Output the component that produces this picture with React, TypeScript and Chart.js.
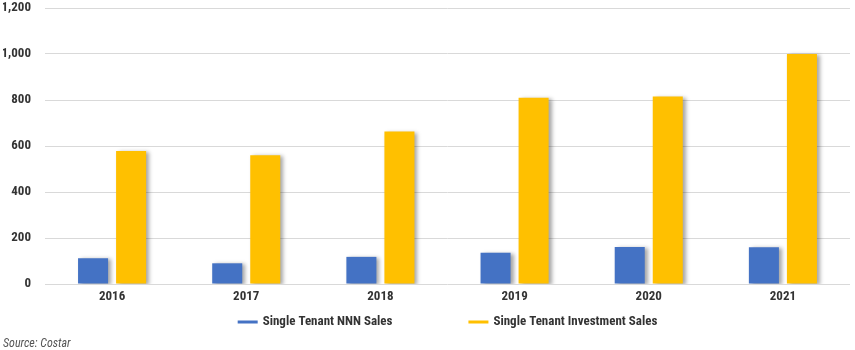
import React, { useEffect, useRef } from "react";
import { Chart, registerables } from "chart.js";

Chart.register(...registerables);

const categories = ["2016", "2017", "2018", "2019", "2020", "2021"];
const nnnSales = [112, 90, 118, 136, 161, 160];
const investmentSales = [578, 560, 663, 810, 815, 1000];
const seriesNames = ["Single Tenant NNN Sales", "Single Tenant Investment Sales"];
const seriesColors = ["#4472C4", "#FFC000"];
const sourceNote = "Source: Costar";

const FONT = "'Roboto Condensed', 'Open Sans Condensed', sans-serif";
const TEXT = "#333333";

const shadowPlugin = {
  id: "barShadow",
  beforeDatasetsDraw(chart: any) {
    const ctx = chart.ctx;
    ctx.save();
    ctx.shadowColor = "rgba(0,0,0,0.35)";
    ctx.shadowOffsetX = 3;
    ctx.shadowOffsetY = 1;
    ctx.shadowBlur = 4;
  },
  afterDatasetsDraw(chart: any) {
    chart.ctx.restore();
  },
};

const lineLegendPlugin = {
  id: "lineLegend",
  afterDraw(chart: any) {
    const ctx = chart.ctx;
    const area = chart.chartArea;
    const xScale = chart.scales.x;
    const y = xScale.bottom + 17;
    const boxW = 20, boxH = 3, textGap = 5, itemGap = 76;
    ctx.save();
    ctx.font = `bold 13px ${FONT}`;
    const items = chart.data.datasets.map((d: any) => ({
      label: d.label,
      color: d.backgroundColor,
      w: ctx.measureText(d.label).width,
    }));
    const total = items.reduce((s: number, it: any) => s + boxW + textGap + it.w, 0) + itemGap * (items.length - 1);
    let x = (area.left + area.right) / 2 - total / 2;
    ctx.textBaseline = "middle";
    ctx.textAlign = "left";
    for (const it of items) {
      ctx.fillStyle = it.color;
      ctx.fillRect(x, y - boxH / 2, boxW, boxH);
      ctx.fillStyle = TEXT;
      ctx.fillText(it.label, x + boxW + textGap, y);
      x += boxW + textGap + it.w + itemGap;
    }
    ctx.restore();
  },
};

export default function App() {
  const ref = useRef<HTMLCanvasElement>(null);
  useEffect(() => {
    document.body.style.margin = "0";
    const chart = new Chart(ref.current!, {
      type: "bar",
      data: {
        labels: categories,
        datasets: [
          { label: seriesNames[0], data: nnnSales, backgroundColor: seriesColors[0] },
          { label: seriesNames[1], data: investmentSales, backgroundColor: seriesColors[1] },
        ],
      },
      options: {
        animation: false,
        responsive: false,
        layout: { padding: { top: 8, right: 5, left: 3, bottom: 0 } },
        datasets: { bar: { categoryPercentage: 0.567, barPercentage: 0.79 } } as any,
        scales: {
          x: {
            grid: { display: false, drawTicks: false },
            border: { display: false },
            afterFit(scale: any) { scale.height = 21; },
            ticks: { color: TEXT, font: { family: FONT, size: 13, weight: "bold" }, padding: 5, maxRotation: 0 },
          },
          y: {
            min: 0,
            max: 1200,
            afterFit(scale: any) { scale.width = 42; },
            grid: { color: "#d9d9d9", drawTicks: true, tickLength: 14, tickColor: "rgba(0,0,0,0)", lineWidth: 1 },
            border: { display: false },
            ticks: {
              stepSize: 200,
              padding: 0,
              color: TEXT,
              font: { family: FONT, size: 13, weight: "bold" },
              callback: (v: any) => Number(v).toLocaleString("en-US"),
            },
          },
        },
        plugins: {
          legend: { display: false },
          tooltip: { enabled: false },
          title: {
            display: true,
            position: "bottom",
            align: "start",
            text: sourceNote,
            color: "#555555",
            padding: { top: 33, bottom: 0 },
            font: { family: FONT, size: 12, style: "italic", weight: "normal", lineHeight: 1 },
          },
        },
      },
      plugins: [shadowPlugin, lineLegendPlugin],
    });
    return () => chart.destroy();
  }, []);
  return <canvas ref={ref} width={855} height={350} style={{ display: "block" }} />;
}
